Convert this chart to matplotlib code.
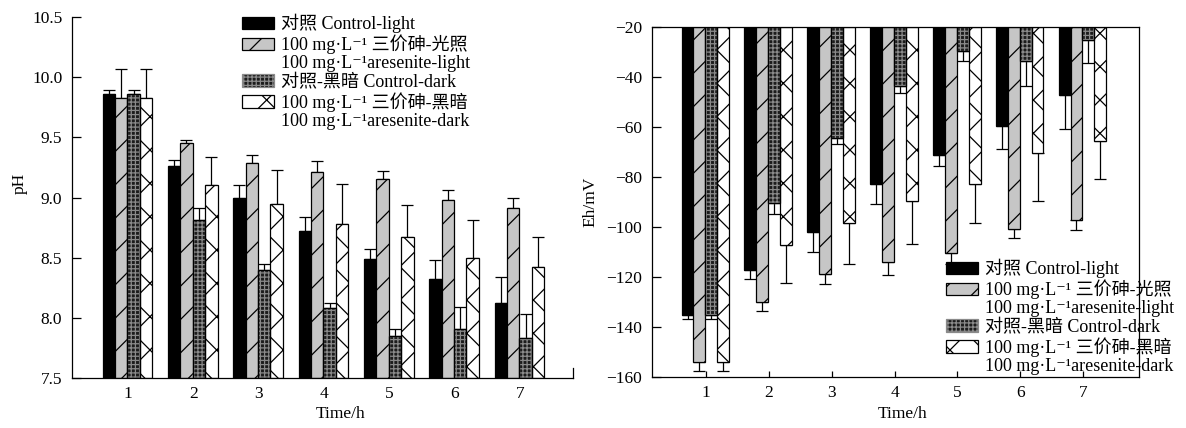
import numpy as np
import matplotlib
matplotlib.use("Agg")
import matplotlib.pyplot as plt
from matplotlib.patches import Patch

plt.rcParams['font.family'] = ['Liberation Serif', 'Noto Sans CJK SC', 'DejaVu Serif']
plt.rcParams['font.size'] = 12.5
plt.rcParams['hatch.linewidth'] = 0.9

# data
hours = [1, 2, 3, 4, 5, 6, 7]

ph_ctrl_light = [9.86, 9.26, 9.00, 8.72, 8.49, 8.32, 8.12]
ph_ctrl_light_err = [0.03, 0.05, 0.10, 0.12, 0.08, 0.16, 0.22]
ph_as_light = [9.83, 9.45, 9.29, 9.21, 9.15, 8.98, 8.91]
ph_as_light_err = [0.24, 0.03, 0.06, 0.09, 0.07, 0.08, 0.09]
ph_ctrl_dark = [9.86, 8.81, 8.40, 8.08, 7.85, 7.91, 7.83]
ph_ctrl_dark_err = [0.03, 0.10, 0.05, 0.04, 0.06, 0.18, 0.20]
ph_as_dark = [9.83, 9.10, 8.95, 8.78, 8.67, 8.50, 8.42]
ph_as_dark_err = [0.24, 0.24, 0.28, 0.33, 0.27, 0.31, 0.25]

eh_ctrl_light = [-135.2, -117.2, -102.0, -82.7, -71.1, -59.7, -47.2]
eh_ctrl_light_err = [1.5, 3.5, 8.0, 8.0, 4.5, 9.0, 13.6]
eh_as_light = [-154.0, -129.9, -118.9, -113.9, -110.3, -100.8, -97.3]
eh_as_light_err = [3.6, 3.6, 4.0, 5.3, 4.4, 3.7, 3.9]
eh_ctrl_dark = [-135.2, -90.3, -64.4, -43.6, -29.6, -33.5, -25.3]
eh_ctrl_dark_err = [1.5, 4.6, 2.4, 2.9, 4.1, 10.0, 9.0]
eh_as_dark = [-154.0, -107.2, -98.3, -89.6, -82.7, -70.3, -65.5]
eh_as_dark_err = [3.6, 15.3, 16.4, 17.3, 15.6, 19.4, 15.3]

# second line of a two-line label sits beside an empty handle (None)
labels = ['对照 Control-light',
          '100 mg·L⁻¹ 三价砷-光照', '100 mg·L⁻¹aresenite-light',
          '对照-黑暗 Control-dark',
          '100 mg·L⁻¹ 三价砷-黑暗', '100 mg·L⁻¹aresenite-dark']
label_series = [0, 1, None, 2, 3, None]

styles = [dict(color='black', edgecolor='black', hatch=None),
          dict(color='#c6c6c6', edgecolor='black', hatch='/'),
          dict(color='#1c1c1c', edgecolor='#8a8a8a', hatch='++++'),
          dict(color='white', edgecolor='black', hatch='x')]

W, H = 1186, 428
fig = plt.figure(figsize=(W / 100, H / 100), dpi=100)
ax1 = fig.add_axes([72 / W, (H - 378) / H, (573 - 72) / W, (378 - 17) / H])
ax2 = fig.add_axes([652 / W, (H - 377) / H, (1139 - 652) / W, (377 - 27) / H])

x = np.array(hours, dtype=float)
bw = 0.19
offs = [-1.5 * bw, -0.5 * bw, 0.5 * bw, 1.5 * bw]


def draw(ax, series, errs, base, up):
    handles = []
    for i, (vals, err, st) in enumerate(zip(series, errs, styles)):
        vals = np.array(vals)
        pos = x + offs[i] - 0.01
        b = ax.bar(pos, vals - base, bw, bottom=base, color=st['color'],
                   edgecolor=st['edgecolor'], hatch=st['hatch'], linewidth=0.9, zorder=2)
        if st['edgecolor'] != 'black':
            # black outline over the grey-hatched bars
            ax.bar(pos, vals - base, bw, bottom=base, facecolor='none',
                   edgecolor='black', linewidth=0.9, zorder=2.1)
        handles.append(b)
        e = np.array(err)
        yerr = [np.zeros_like(e), e] if up else [e, np.zeros_like(e)]
        ax.errorbar(pos, vals, yerr=yerr, fmt='none', ecolor='black',
                    elinewidth=0.9, capsize=4, capthick=0.9, zorder=1.5)
    return handles


h1 = draw(ax1, [ph_ctrl_light, ph_as_light, ph_ctrl_dark, ph_as_dark],
          [ph_ctrl_light_err, ph_as_light_err, ph_ctrl_dark_err, ph_as_dark_err], 7.5, True)
h2 = draw(ax2, [eh_ctrl_light, eh_as_light, eh_ctrl_dark, eh_as_dark],
          [eh_ctrl_light_err, eh_as_light_err, eh_ctrl_dark_err, eh_as_dark_err], -20, False)

# left panel
ax1.set_xlim(0.143, 7.81)
ax1.set_ylim(7.5, 10.5)
ax1.set_yticks(np.arange(7.5, 10.51, 0.5))
ax1.set_yticklabels([f'{v:.1f}' for v in np.arange(7.5, 10.51, 0.5)])
ax1.set_xticks(hours)
ax1.tick_params(axis='y', direction='in', length=6.5, width=0.9, pad=7)
ax1.tick_params(axis='x', direction='in', length=0, pad=6)
ax1.spines['top'].set_visible(False)
ax1.spines['right'].set_bounds(7.5, 7.585)
for s in ax1.spines.values():
    s.set_linewidth(0.9)
ax1.set_ylabel('pH')
ax1.yaxis.set_label_coords(-0.088, 0.54)
ax1.set_xlabel('Time/h')
ax1.xaxis.set_label_coords(0.537, -0.078)

# right panel
ax2.set_xlim(0.14, 7.89)
ax2.set_ylim(-160, -20)
ax2.set_yticks(np.arange(-160, -19, 20))
ax2.set_xticks(hours)
ax2.tick_params(axis='y', direction='in', length=6.5, width=0.9, pad=7)
ax2.tick_params(axis='x', direction='in', length=4, width=0.9, pad=6)
for s in ax2.spines.values():
    s.set_linewidth(0.9)
ax2.set_ylabel('Eh/mV')
ax2.yaxis.set_label_coords(-0.11, 0.5)
ax2.set_xlabel('Time/h')
ax2.xaxis.set_label_coords(0.515, -0.083)


def legend_handles(hs):
    blank = Patch(facecolor='none', edgecolor='none')
    return [hs[k] if k is not None else blank for k in label_series]


leg_kw = dict(frameon=False, handlelength=1.75, handleheight=0.7, handletextpad=0.4,
              labelspacing=0.07, borderpad=0, borderaxespad=0, loc='upper left',
              fontsize=13)
fig.legend(legend_handles(h1), labels, bbox_to_anchor=(242 / W, 1 - 14 / H), **leg_kw)
fig.legend(legend_handles(h2), labels, bbox_to_anchor=(946 / W, 1 - 259 / H), **leg_kw)

fig.savefig('out.png', dpi=100)
